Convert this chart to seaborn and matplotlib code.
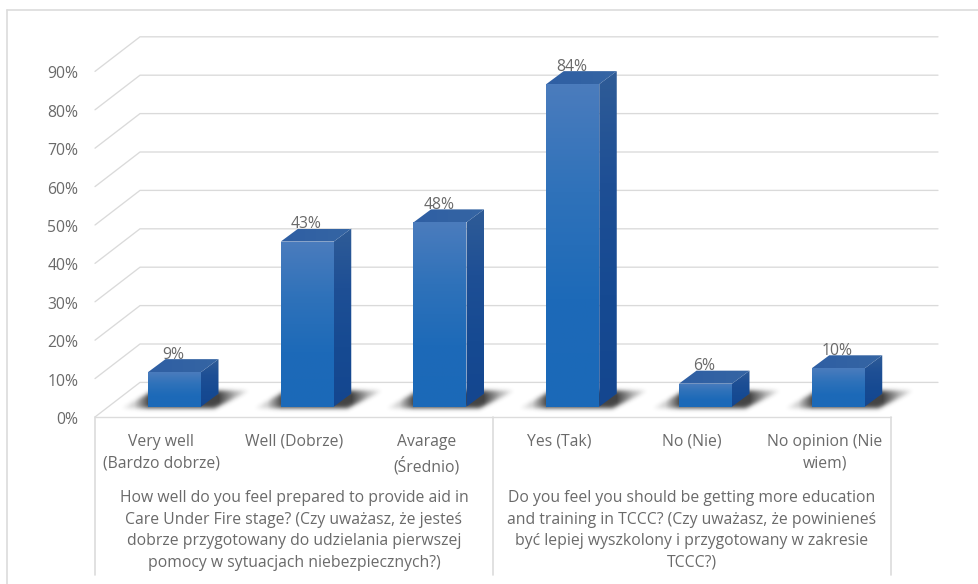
import numpy as np
import pandas as pd
import seaborn as sns
import matplotlib
matplotlib.use("Agg")
import matplotlib.pyplot as plt
from matplotlib.colors import to_rgb
from matplotlib.patches import Polygon
from matplotlib.path import Path

categories = ["Very well\n(Bardzo dobrze)", "Well (Dobrze)", "Avarage\n(Średnio)",
              "Yes (Tak)", "No (Nie)", "No opinion (Nie\nwiem)"]
values = [9, 43, 48, 84, 6, 10]
wall_ticks = [0, 10, 20, 30, 40, 50, 60, 70, 80, 90]
group_titles = [
    "How well do you feel prepared to provide aid in\nCare Under Fire stage? (Czy uważasz, że jesteś\n"
    "dobrze przygotowany do udzielania pierwszej\npomocy w sytuacjach niebezpiecznych?)",
    "Do you feel you should be getting more education\nand training in TCCC? (Czy uważasz, że powinieneś\n"
    "być lepiej wyszkolony i przygotowany w zakresie\nTCCC?)",
]

W, H = 979, 584
sns.set_theme(style="white")
plt.rcParams["font.family"] = ["Open Sans", "DejaVu Sans"]

TEXT = "#6a6a6a"
GRID = "#dadada"
AXIS = "#dcdcdc"
FONT = 11.3
LINES = 1.47

# Scale: one category step and one percentage point, in pixels
STEP, UNIT = 132.75, 3.84
X0, BASE = 174.5, 406.7


def xd(px):
    return (px - X0) / STEP


def yd(py):
    return (BASE - py) / UNIT


fig = plt.figure(figsize=(W / 100, H / 100), dpi=100, facecolor="white")
ax = fig.add_axes([0, 0, 1, 1])

df = pd.DataFrame({"category": categories, "value": values})
sns.barplot(data=df, x="category", y="value", order=categories, width=53 / STEP,
            color="#1f6bb8", saturation=1, linewidth=0, ax=ax, zorder=5)
ax.set_xlim(xd(0), xd(W))
ax.set_ylim(yd(H), yd(0))
ax.axis("off")

# Chart frame: top and left edges only
ax.plot([xd(7.5), xd(W)], [yd(9.5), yd(9.5)], color=AXIS, lw=1.2, zorder=1)
ax.plot([xd(7.5), xd(7.5)], [yd(9.5), yd(H)], color=AXIS, lw=1.2, zorder=1)

# Wall grid: a slanted run on the side wall, then a level run along the back
FRONT_OFF, BACK_OFF = yd(417), yd(382.4)
for v in wall_ticks:
    ax.plot([xd(95), xd(140), xd(938)],
            [v + FRONT_OFF, v + BACK_OFF, v + BACK_OFF],
            color=GRID, lw=0.95, zorder=1, solid_joinstyle="miter")
    ax.text(xd(78.5), v + FRONT_OFF - 3 / UNIT, f"{v}%", ha="right", va="center",
            color=TEXT, fontsize=FONT, zorder=8)

# Category axis with its two-level bracket
ax.plot([xd(95), xd(891)], [FRONT_OFF, FRONT_OFF], color=AXIS, lw=1.0, zorder=1)
for px in (95, 493, 891):
    ax.plot([xd(px), xd(px)], [FRONT_OFF, yd(575)], color=AXIS, lw=1.2, zorder=1)


def gradient_face(verts, stops, horizontal=False):
    """Fill a polygon with a colour ramp through the given stops."""
    xs, ys = zip(*verts)
    ramp = np.linspace(0, 1, 256)
    pos = np.linspace(0, 1, len(stops))
    rgb = np.array([to_rgb(c) for c in stops])
    img = np.stack([np.interp(ramp, pos, rgb[:, k]) for k in range(3)], axis=-1)
    img = img[np.newaxis, :, :] if horizontal else img[:, np.newaxis, :]
    im = ax.imshow(img, extent=(min(xs), max(xs), min(ys), max(ys)),
                   origin="upper", aspect="auto", zorder=6, interpolation="bilinear")
    im.set_clip_path(Polygon(verts, closed=True, transform=ax.transData))


def floor_shadow(left, right):
    """Soft cast shadow on the floor, in data coordinates around one bar."""
    px_l, px_r = left * STEP + X0, right * STEP + X0
    x = np.arange(px_l - 50, px_r + 70)
    y = np.arange(BASE - 34, BASE + 14)
    gx, gy = np.meshgrid(x, y)
    poly = Path([(px_l - 26, BASE + 1), (px_l + 6, BASE - 17), (px_r + 50, BASE - 17),
                 (px_r + 14, BASE + 1)])
    mask = poly.contains_points(np.c_[gx.ravel(), gy.ravel()]).reshape(gx.shape).astype(float)
    kernel = np.exp(-np.arange(-8, 9) ** 2 / (2 * 2.2 ** 2))
    kernel /= kernel.sum()
    mask = np.apply_along_axis(lambda r: np.convolve(r, kernel, "same"), 0, mask)
    mask = np.apply_along_axis(lambda r: np.convolve(r, kernel, "same"), 1, mask)
    fade = np.interp(gx, [px_l - 32, px_l - 14, px_l, px_r + 18, px_r + 34, px_r + 52],
                     [0, 0.22, 0.78, 0.82, 0.36, 0])
    rgba = np.zeros(gx.shape + (4,))
    rgba[..., :3] = 0.1
    rgba[..., 3] = mask * fade
    ax.imshow(rgba, extent=(xd(x[0]), xd(x[-1]), yd(y[-1]), yd(y[0])),
              origin="upper", aspect="auto", zorder=3, interpolation="bilinear")


# Depth of each column, as data offsets
DX, DY = 17.5 / STEP, 13 / UNIT

for patch, v in zip(ax.patches, values):
    l, r = patch.get_x(), patch.get_x() + patch.get_width()
    floor_shadow(l, r)
    gradient_face([(l, 0), (r, 0), (r, v), (l, v)],
                  ["#4b7cbd", "#2f72ba", "#1d6ab8", "#1b69b8"])
    gradient_face([(r, 0), (r + DX, DY), (r + DX, v + DY), (r, v)],
                  ["#2f5c97", "#1e4f95", "#164a92", "#14468f"])
    gradient_face([(l, v), (r, v), (r + DX, v + DY), (l + DX, v + DY)],
                  ["#2f5fa3", "#3565a4"], horizontal=True)
    ax.text((l + r) / 2 - 1 / STEP, v + 17.5 / UNIT, f"{v}%", ha="center", va="center",
            color=TEXT, fontsize=FONT, zorder=8)

# Bracket labels sit in even slots of the bracket, slightly left of the columns
SLOT = (891 - 95) / len(categories)
for i, label in enumerate(categories):
    ax.text(xd(95 + SLOT * (i + 0.5)), yd(434), label, ha="center", va="top", color=TEXT,
            fontsize=FONT, linespacing=LINES, zorder=8)
for c, title in zip((294, 692), group_titles):
    ax.text(xd(c), yd(490), title, ha="center", va="top", color=TEXT,
            fontsize=FONT, linespacing=LINES, zorder=8)

fig.savefig("out.png", dpi=100, facecolor="white")
